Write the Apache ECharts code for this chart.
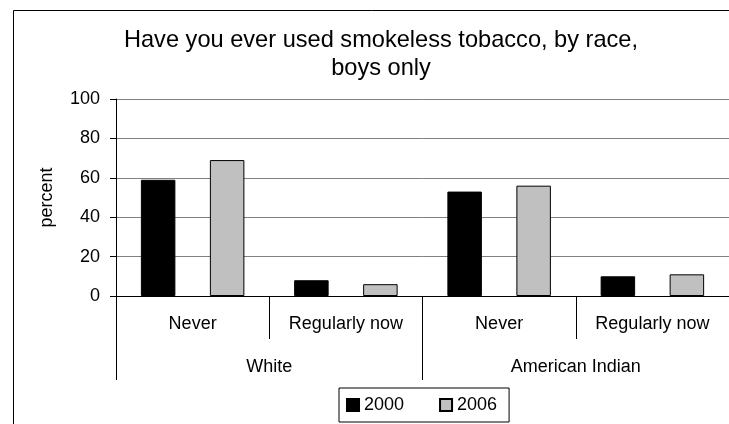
<!DOCTYPE html>
<html>
<head>
<meta charset="utf-8">
<script src="https://cdn.jsdelivr.net/npm/echarts@6/dist/echarts.min.js"></script>
<style>
html,body{margin:0;padding:0;background:#fff;overflow:hidden;}
#chart{width:729px;height:424px;}
</style>
</head>
<body>
<div id="chart"></div>
<script>
var titleText = 'Have you ever used smokeless tobacco, by race,\nboys only';
var answers = ['Never', 'Regularly now', 'Never', 'Regularly now'];
var races = ['White', 'American Indian'];
var seriesNames = ['2000', '2006'];
var values2000 = [59, 8, 53, 10];
var values2006 = [69, 6, 56, 11];
var yTicks = [0, 20, 40, 60, 80, 100];
var yAxisName = 'percent';

var FONT = 'Liberation Sans, Arial, sans-serif';
var chart = echarts.init(document.getElementById('chart'), null, {renderer: 'canvas'});
var option = {
  backgroundColor: '#fff',
  animation: false,
  textStyle: {fontFamily: FONT, color: '#000'},
  graphic: [{
    type: 'polyline', silent: true,
    shape: {points: [[13.5, 600], [13.5, 10.5], [900, 10.5]]},
    style: {fill: null, stroke: '#000', lineWidth: 1}
  }],
  title: {
    text: titleText,
    left: 376, top: 21, textAlign: 'center',
    textStyle: {fontFamily: FONT, fontSize: 23.6, fontWeight: 'normal', color: '#000', lineHeight: 28}
  },
  legend: {
    data: seriesNames,
    left: 339, top: 388,
    orient: 'horizontal',
    borderColor: '#000', borderWidth: 1,
    padding: [7, 12, 7, 7],
    itemWidth: 12, itemHeight: 12, itemGap: 35,
    icon: 'rect',
    textStyle: {fontFamily: FONT, fontSize: 18, color: '#000', lineHeight: 20}
  },
  grid: {left: 116, right: -6, top: 99, bottom: 128, containLabel: false},
  xAxis: [{
    type: 'category',
    data: answers,
    position: 'bottom',
    axisLine: {show: true, lineStyle: {color: '#000', width: 1}},
    axisTick: {show: true, length: 43, lineStyle: {color: '#000'}},
    axisLabel: {fontFamily: FONT, fontSize: 18, color: '#000', margin: 19, interval: 0}
  }, {
    type: 'category',
    data: races,
    position: 'bottom',
    axisLine: {show: false},
    axisTick: {show: true, length: 84, lineStyle: {color: '#000'}},
    axisLabel: {fontFamily: FONT, fontSize: 18, color: '#000', margin: 62, interval: 0}
  }],
  yAxis: {
    type: 'value',
    min: yTicks[0], max: yTicks[yTicks.length - 1], interval: 20,
    name: yAxisName,
    nameLocation: 'middle', nameRotate: 90, nameGap: 60,
    nameTextStyle: {fontFamily: FONT, fontSize: 18, color: '#000'},
    axisLine: {show: true, lineStyle: {color: '#000', width: 1}},
    axisTick: {show: true, length: 6, lineStyle: {color: '#000'}},
    axisLabel: {fontFamily: FONT, fontSize: 18, color: '#000', margin: 16},
    splitLine: {show: true, lineStyle: {color: '#808080', width: 1}}
  },
  series: [{
    name: seriesNames[0], type: 'bar', data: values2000,
    barWidth: 34.5, barGap: '100%',
    itemStyle: {color: '#000', borderColor: '#000', borderWidth: 1}
  }, {
    name: seriesNames[1], type: 'bar', data: values2006,
    barWidth: 34.5, barGap: '100%',
    itemStyle: {color: '#c0c0c0', borderColor: '#000', borderWidth: 1}
  }]
};
chart.setOption(option);
</script>
</body>
</html>
